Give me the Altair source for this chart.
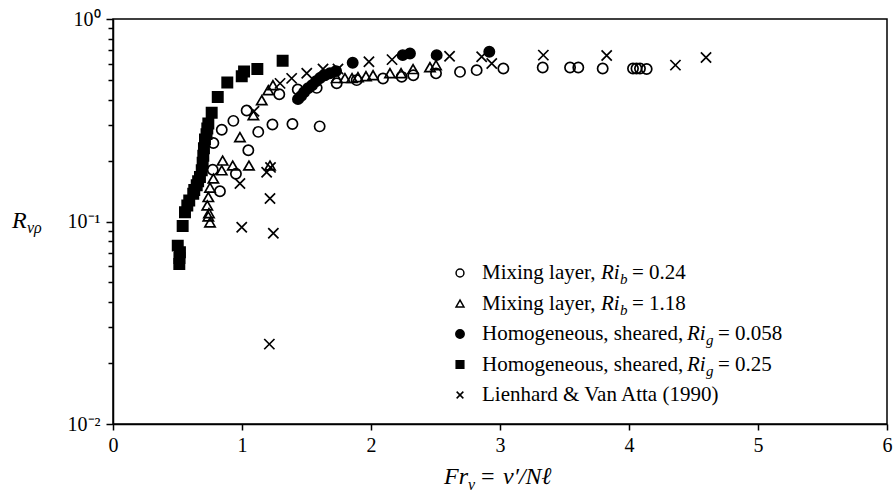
import altair as alt
import pandas as pd

# ---------------- data ----------------
series_names = [
    "Mixing layer, Ri_b = 0.24",
    "Mixing layer, Ri_b = 1.18",
    "Homogeneous, sheared, Ri_g = 0.058",
    "Homogeneous, sheared, Ri_g = 0.25",
    "Lienhard & Van Atta (1990)",
]

mix024_x = [0.778, 0.843, 0.933, 1.036, 1.126, 1.236, 1.391, 1.602, 1.049, 0.953, 0.773, 0.829,
            1.289, 1.432, 1.579, 1.734, 1.889, 2.093, 2.238, 2.328, 2.504, 2.690, 2.819, 3.026,
            3.331, 3.543, 3.607, 3.796, 4.031, 4.058, 4.085, 4.137]
mix024_y = [0.244, 0.284, 0.314, 0.353, 0.277, 0.301, 0.303, 0.295, 0.225, 0.172, 0.180, 0.141,
            0.425, 0.449, 0.457, 0.482, 0.499, 0.508, 0.518, 0.528, 0.539, 0.548, 0.559, 0.570,
            0.576, 0.576, 0.576, 0.570, 0.570, 0.570, 0.570, 0.566]

mix118_x = [1.153, 1.204, 1.088, 0.984, 0.850, 0.928, 1.054, 1.217, 0.843, 0.778, 0.752, 0.739,
            0.731, 0.744, 0.739, 0.752, 1.240, 1.734, 1.798, 1.853, 1.899, 1.961, 2.016, 2.147,
            2.233, 2.326, 2.457, 2.504]
mix118_y = [0.397, 0.445, 0.335, 0.261, 0.200, 0.189, 0.189, 0.189, 0.179, 0.163, 0.147, 0.132,
            0.120, 0.110, 0.106, 0.099, 0.471, 0.511, 0.511, 0.511, 0.516, 0.522, 0.528, 0.540,
            0.540, 0.566, 0.578, 0.592]

hom058_x = [1.434, 1.457, 1.481, 1.512, 1.543, 1.574, 1.605, 1.643, 1.682, 1.729, 1.858, 2.246,
            2.302, 2.509, 2.917]
hom058_y = [0.402, 0.416, 0.435, 0.455, 0.471, 0.493, 0.511, 0.528, 0.540, 0.553, 0.608, 0.663,
            0.676, 0.663, 0.689]

hom025_x = [1.315, 1.119, 1.016, 0.998, 0.886, 0.812, 0.765, 0.739, 0.731, 0.725, 0.713, 0.705,
            0.700, 0.695, 0.688, 0.674, 0.660, 0.649, 0.630, 0.622, 0.591, 0.576, 0.558, 0.540,
            0.502, 0.519, 0.515, 0.514]
hom025_y = [0.622, 0.566, 0.551, 0.522, 0.486, 0.412, 0.344, 0.305, 0.288, 0.270, 0.254, 0.230,
            0.211, 0.195, 0.179, 0.166, 0.158, 0.151, 0.143, 0.137, 0.127, 0.120, 0.111, 0.095,
            0.076, 0.0705, 0.066, 0.0617]

lva_x = [0.984, 0.998, 1.243, 1.212, 1.217, 1.191, 1.221, 1.093, 1.295, 1.385, 1.502, 1.628,
         1.744, 1.984, 2.163, 2.609, 2.858, 2.936, 3.336, 3.827, 4.360, 4.597]
lva_y = [0.154, 0.0937, 0.0875, 0.0248, 0.130, 0.175, 0.185, 0.350, 0.481, 0.509, 0.540, 0.566,
         0.566, 0.615, 0.630, 0.654, 0.651, 0.603, 0.663, 0.660, 0.592, 0.646]

x_ticks = [0, 1, 2, 3, 4, 5, 6]
y_ticks = [0.01, 0.02, 0.03, 0.04, 0.05, 0.06, 0.07, 0.08, 0.09,
           0.1, 0.2, 0.3, 0.4, 0.5, 0.6, 0.7, 0.8, 0.9, 1]

# legend text pieces (prefix, italic symbol, subscript, suffix)
leg_prefix = ["Mixing layer, ", "Mixing layer, ", "Homogeneous, sheared, ",
              "Homogeneous, sheared, ", "Lienhard & Van Atta (1990)"]
leg_sym = ["Ri", "Ri", "Ri", "Ri", ""]
leg_sub = ["b", "b", "g", "g", ""]
leg_suffix = ["= 0.24", "= 1.18", "= 0.058", "= 0.25", ""]

# ---------------- styling ----------------
FONT = "Liberation Serif"
shapes = ["circle", "triangle-up", "circle", "square", "M-1,-1L1,1M-1,1L1,-1"]
fills = ["transparent", "transparent", "black", "black", "transparent"]
sizes = [105, 105, 115, 100, 95]
leg_sizes = [62, 62, 70, 58, 45]

W, H = 774, 405

rows = []
for name, xs, ys in zip(series_names,
                        [mix024_x, mix118_x, hom058_x, hom025_x, lva_x],
                        [mix024_y, mix118_y, hom058_y, hom025_y, lva_y]):
    for a, b in zip(xs, ys):
        rows.append({"series": name, "x": a, "y": b})
df = pd.DataFrame(rows)

shape_scale = alt.Scale(domain=series_names, range=shapes)
fill_scale = alt.Scale(domain=series_names, range=fills)
size_scale = alt.Scale(domain=series_names, range=sizes)

major_test = "datum.value == 1 || datum.value == 0.1 || datum.value == 0.01"
label_expr = ("datum.value == 1 ? '10\u2070' : datum.value == 0.1 ? '10\u207b\u00b9' : "
              "datum.value == 0.01 ? '10\u207b\u00b2' : ''")

points = alt.Chart(df).mark_point(stroke="black", strokeWidth=1.7, opacity=1).encode(
    x=alt.X("x:Q", scale=alt.Scale(domain=[0, 6], nice=False, zero=False),
            axis=alt.Axis(values=x_ticks, format="d", title=None, grid=False,
                          tickSize=6, tickWidth=1.5, domainWidth=1.5,
                          domainColor="black", tickColor="black",
                          labelColor="black", labelFont=FONT, labelFontSize=20,
                          labelPadding=5, labelFlush=False, labelOverlap=False)),
    y=alt.Y("y:Q", scale=alt.Scale(type="log", domain=[0.01, 1], nice=False),
            axis=alt.Axis(values=y_ticks, labelExpr=label_expr, title=None, grid=False,
                          tickSize={"condition": {"test": major_test, "value": 7}, "value": 5},
                          tickWidth=1.5, domainWidth=1.5,
                          domainColor="black", tickColor="black",
                          labelColor="black", labelFont=FONT, labelFontSize=20,
                          labelPadding=6, labelFlush=False, labelOverlap=False)),
    shape=alt.Shape("series:N", scale=shape_scale, legend=None),
    fill=alt.Fill("series:N", scale=fill_scale, legend=None),
    size=alt.Size("series:N", scale=size_scale, legend=None),
)

# ---------------- custom legend ----------------
LEG_SYM_X = 347
LEG_TXT_X = 369
LEG_Y0 = 254
LEG_DY = 30.5
ri_offset = {"Mixing layer, ": 119, "Homogeneous, sheared, ": 205}

leg_rows = []
for i, name in enumerate(series_names):
    off = ri_offset.get(leg_prefix[i], 0)
    leg_rows.append({
        "series": name,
        "ly": LEG_Y0 + LEG_DY * i,
        "sx": LEG_SYM_X,
        "lsize": leg_sizes[i],
        "prefix": leg_prefix[i], "px": LEG_TXT_X,
        "sym": leg_sym[i], "symx": LEG_TXT_X + off,
        "sub": leg_sub[i], "subx": LEG_TXT_X + off + 19,
        "suffix": leg_suffix[i], "sufx": LEG_TXT_X + off + 31,
    })
leg = pd.DataFrame(leg_rows)

leg_symbols = alt.Chart(leg).mark_point(stroke="black", strokeWidth=1.5, opacity=1).encode(
    x=alt.X("sx:Q", scale=None),
    y=alt.Y("ly:Q", scale=None),
    shape=alt.Shape("series:N", scale=shape_scale, legend=None),
    fill=alt.Fill("series:N", scale=fill_scale, legend=None),
    size=alt.Size("lsize:Q", scale=None, legend=None),
)

def leg_text(field, xfield, italic=False, size=21, dy=0):
    kw = dict(font=FONT, fontSize=size, align="left", baseline="middle", color="black", dy=dy)
    if italic:
        kw["fontStyle"] = "italic"
    return alt.Chart(leg).mark_text(**kw).encode(
        x=alt.X(f"{xfield}:Q", scale=None),
        y=alt.Y("ly:Q", scale=None),
        text=alt.Text(f"{field}:N"),
    )

legend_layers = [
    leg_text("prefix", "px"),
    leg_text("sym", "symx", italic=True),
    leg_text("sub", "subx", italic=True, size=15, dy=6),
    leg_text("suffix", "sufx"),
]

# ---------------- axis titles built from text pieces ----------------
one = pd.DataFrame({"k": [0]})

def piece(txt, x, y, size, italic):
    kw = dict(text=txt, font=FONT, fontSize=size, align="left", baseline="alphabetic",
              color="black")
    if italic:
        kw["fontStyle"] = "italic"
    return alt.Chart(one).mark_text(**kw).encode(x=alt.value(x), y=alt.value(y))

title_layers = [
    piece("Fr", 331, 465, 24, True),
    piece("v", 355, 471, 16, True),
    piece("=", 368, 465, 24, False),
    piece("v\u2032/N\u2113", 390, 465, 24, True),
    piece("R", -101, 209, 24, True),
    piece("v\u03c1", -86, 214, 16, True),
]

chart = alt.layer(points, leg_symbols, *legend_layers, *title_layers).properties(
    width=W, height=H,
    autosize=alt.AutoSizeParams(type="none"),
    padding={"left": 113, "top": 19, "right": 8, "bottom": 70},
    background="white",
).configure_view(stroke="black", strokeWidth=1.5)

chart.save("out.html", embed_options={"renderer": "svg", "actions": False})
